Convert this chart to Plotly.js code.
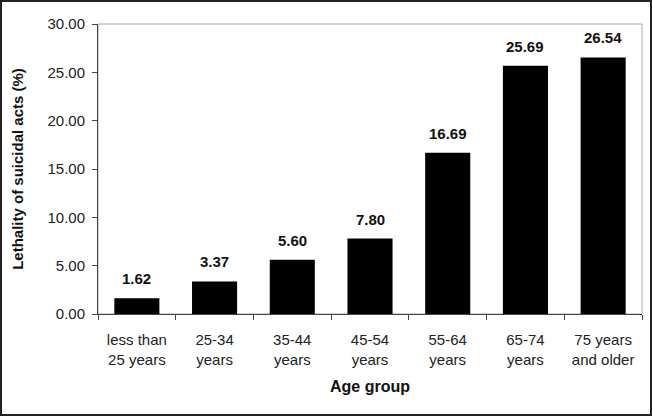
<!DOCTYPE html>
<html>
<head>
<meta charset="utf-8">
<script src="https://cdn.plot.ly/plotly-3.0.1.min.js"></script>
<style>
  body { margin: 0; background: #fff; }
  #plot { width: 652px; height: 416px; box-sizing: border-box; border: 2px solid #222; }
</style>
</head>
<body>
<div id="plot"></div>
<script>
const ageGroups = ['less than<br>25 years', '25-34<br>years', '35-44<br>years', '45-54<br>years',
                   '55-64<br>years', '65-74<br>years', '75 years<br>and older'];
const lethality = [1.62, 3.37, 5.60, 7.80, 16.69, 25.69, 26.54];
const yTicks = [0, 5, 10, 15, 20, 25, 30];

const data = [{
    x: ageGroups,
    y: lethality,
    type: 'bar',
    width: 0.58,
    marker: { color: '#000' },
    hoverinfo: 'none'
}];

// value labels above the bars
const valueLabels = ageGroups.map((g, i) => ({
    x: g,
    y: lethality[i],
    text: lethality[i].toFixed(2),
    showarrow: false,
    yanchor: 'bottom',
    yshift: 9,
    font: { size: 15, color: '#111', weight: 'bold' }
}));

const layout = {
    width: 648,
    height: 412,
    margin: { l: 96, r: 8, t: 22, b: 100 },
    paper_bgcolor: '#fff',
    plot_bgcolor: '#fff',
    showlegend: false,
    font: { family: 'Liberation Sans, Arial, sans-serif', size: 15, color: '#222' },
    xaxis: {
        type: 'category',
        tickson: 'boundaries',
        ticks: 'outside',
        ticklen: 5,
        tickcolor: '#444',
        ticklabelstandoff: 12,
        showline: true,
        linecolor: '#444',
        linewidth: 1,
        showgrid: false,
        tickfont: { size: 15, color: '#222' },
        title: { text: 'Age group', font: { size: 16, color: '#111', weight: 'bold' }, standoff: 14 }
    },
    yaxis: {
        range: [0, 30],
        tickvals: yTicks,
        tickformat: '.2f',
        ticks: 'outside',
        ticklen: 5,
        tickcolor: '#444',
        ticklabelstandoff: 4,
        showline: true,
        linecolor: '#444',
        linewidth: 1,
        showgrid: false,
        zeroline: false,
        tickfont: { size: 15, color: '#222' },
        title: { text: 'Lethality of suicidal acts (%)', font: { size: 15, color: '#111', weight: 'bold' }, standoff: 20 }
    },
    annotations: valueLabels,
    shapes: [{
        type: 'rect', xref: 'paper', yref: 'paper', x0: 0, x1: 1, y0: 0, y1: 1,
        line: { color: '#aaa', width: 1 }, layer: 'below'
    }]
};

Plotly.newPlot('plot', data, layout, { displayModeBar: false, staticPlot: true });
</script>
</body>
</html>
